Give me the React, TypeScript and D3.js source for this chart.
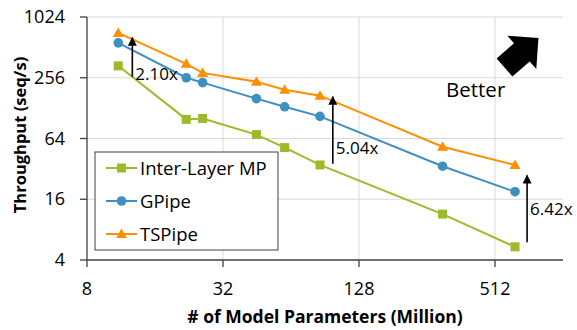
import * as d3 from 'd3'

const params = [11, 22, 26, 45, 60, 86, 300, 628]
const interLayer = [336, 99, 101, 70, 52, 35, 11.4, 5.4]
const gpipe = [568, 256, 229, 159, 132, 106, 34, 19]
const tspipe = [712, 352, 286, 234, 195, 170, 53, 35]

const xTicks = [8, 32, 128, 512]
const yTicks = [4, 16, 64, 256, 1024]

const seriesNames = ['Inter-Layer MP', 'GPipe', 'TSPipe']
const seriesValues = [interLayer, gpipe, tspipe]
const colors = ['#9BBB2A', '#3F8FC0', '#FF8F00']
const markers = ['square', 'circle', 'triangle']

// speedup arrows: x position, from / to value, label baseline value
const speedups = [
  { label: '2.10x', x: 12.7, from: 262, to: 640, labelY: 244 },
  { label: '5.04x', x: 98, from: 36, to: 166, labelY: 44.5 },
  { label: '6.42x', x: 710, from: 6.0, to: 27.5, labelY: 11.1 },
]

const W = 577
const H = 330
const font = '"Open Sans", Lato, sans-serif'

const x = d3.scaleLog().base(2).domain([8, 1024]).range([87, 563])
const y = d3.scaleLog().base(2).domain([4, 1024]).range([260, 17])

const line = d3
  .line<number>()
  .x((_, i) => x(params[i]))
  .y(d => y(d))

const Marker = ({ type, cx, cy, color }) => {
  if (type === 'square')
    return <rect x={cx - 4.5} y={cy - 4.5} width={9} height={9} fill={color} />
  if (type === 'circle') return <circle cx={cx} cy={cy} r={4.8} fill={color} />
  return (
    <path
      d={`M ${cx} ${cy - 5.5} L ${cx + 5.5} ${cy + 4} L ${cx - 5.5} ${cy + 4} Z`}
      fill={color}
    />
  )
}

// block arrow pointing up-right ("Better")
const betterArrow = () => {
  const pts = [
    [0, -12],
    [23, -12],
    [23, -22],
    [45, 0],
    [23, 22],
    [23, 12],
    [0, 12],
  ]
  return pts.map(p => p.join(',')).join(' ')
}

export default function App() {
  const [x0, x1] = x.range()
  const [y0, y1] = y.range()
  return (
    <svg
      width={W}
      height={H}
      style={{ position: 'absolute', left: 0, top: 0, background: '#fff' }}
      fontFamily={font}
    >
      <defs>
        <marker
          id="ah"
          viewBox="0 0 10 10"
          refX="9"
          refY="5"
          markerWidth="11"
          markerHeight="9"
          orient="auto"
          markerUnits="userSpaceOnUse"
        >
          <path d="M0,0 L10,5 L0,10 Z" fill="#000" />
        </marker>
      </defs>

      {/* grid */}
      <g stroke="#D9D9D9" strokeWidth={1}>
        {yTicks.slice(1).map(t => (
          <line key={t} x1={x0} x2={x1} y1={y(t)} y2={y(t)} />
        ))}
        {xTicks.slice(1).map(t => (
          <line key={t} x1={x(t)} x2={x(t)} y1={y0} y2={y1} />
        ))}
      </g>

      {/* axes */}
      <g stroke="#404040" strokeWidth={1.3}>
        <line x1={x0} x2={x0} y1={y0} y2={y1} />
        <line x1={x0} x2={x1} y1={y0} y2={y0} />
        {yTicks.map(t => (
          <line key={t} x1={x0 - 7} x2={x0} y1={y(t)} y2={y(t)} />
        ))}
        {xTicks.map(t => (
          <line key={t} x1={x(t)} x2={x(t)} y1={y0} y2={y0 + 7} />
        ))}
      </g>
      <g fontSize={18} fill="#000">
        {yTicks.map(t => (
          <text key={t} x={x0 - 22} y={y(t) + 6} textAnchor="end">
            {t}
          </text>
        ))}
        {xTicks.map(t => (
          <text key={t} x={x(t)} y={y0 + 35} textAnchor="middle">
            {t}
          </text>
        ))}
      </g>
      <text
        x={(x0 + x1) / 2}
        y={323}
        textAnchor="middle"
        fontSize={17.5}
        fontWeight="bold"
      >
        # of Model Parameters (Million)
      </text>
      <text
        transform={`translate(26,135) rotate(-90)`}
        textAnchor="middle"
        fontSize={16.5}
        fontWeight="bold"
      >
        Throughput (seq/s)
      </text>

      {/* series */}
      {seriesValues.map((vals, s) => (
        <g key={s}>
          <path d={line(vals)} fill="none" stroke={colors[s]} strokeWidth={2} />
          {vals.map((v, i) => (
            <Marker
              key={i}
              type={markers[s]}
              cx={x(params[i])}
              cy={y(v)}
              color={colors[s]}
            />
          ))}
        </g>
      ))}

      {/* speedup annotations */}
      {speedups.map(a => (
        <g key={a.label}>
          <line
            x1={x(a.x)}
            x2={x(a.x)}
            y1={y(a.from)}
            y2={y(a.to)}
            stroke="#000"
            strokeWidth={1.6}
            markerEnd="url(#ah)"
          />
          <text x={x(a.x) + 3} y={y(a.labelY)} fontSize={17}>
            {a.label}
          </text>
        </g>
      ))}

      {/* better */}
      <text x={446} y={97} fontSize={20.5}>
        Better
      </text>
      <polygon
        points={betterArrow()}
        transform="translate(504.5,67.5) rotate(-41)"
        fill="#000"
      />

      {/* legend */}
      <g>
        <rect
          x={95}
          y={152}
          width={183}
          height={98}
          fill="#fff"
          stroke="#404040"
          strokeWidth={1}
        />
        {seriesNames.map((n, i) => {
          const ly = 168 + i * 33
          return (
            <g key={n}>
              <line
                x1={106}
                x2={137}
                y1={ly}
                y2={ly}
                stroke={colors[i]}
                strokeWidth={2}
              />
              <Marker type={markers[i]} cx={121.5} cy={ly} color={colors[i]} />
              <text x={140} y={ly + 6.5} fontSize={18.5}>
                {n}
              </text>
            </g>
          )
        })}
      </g>
    </svg>
  )
}
